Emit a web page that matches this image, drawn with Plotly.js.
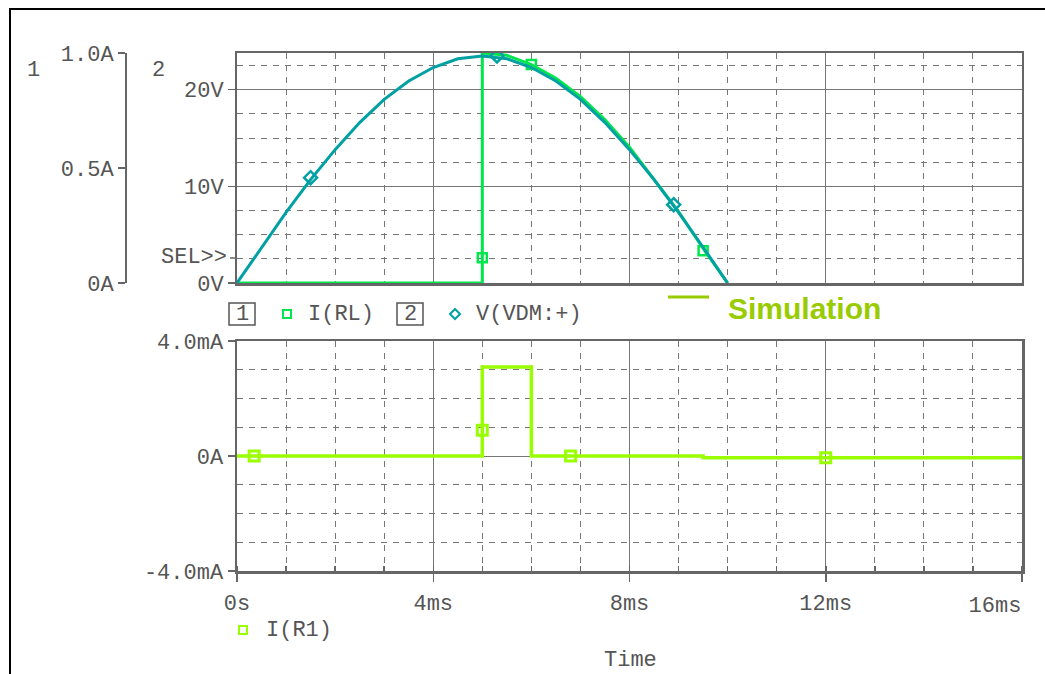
<!DOCTYPE html>
<html>
<head>
<meta charset="utf-8">
<script src="https://cdn.plot.ly/plotly-3.0.1.min.js"></script>
<style>html,body{margin:0;padding:0;background:#fff;}#chart{width:1045px;height:674px;}</style>
</head>
<body>
<div id="chart"></div>
<script>
// ---- data (time in ms) ----
const tV = [0, 0.5, 1.0, 1.5, 2.0, 2.5, 3.0, 3.5, 4.0, 4.5, 5.0, 5.5, 6.0, 6.5, 7.0, 7.5, 8.0, 8.5, 9.0, 9.5, 10.0];
const vVDM = [0, 3.7, 7.3, 10.7, 13.8, 16.6, 19.0, 20.9, 22.3, 23.2, 23.5, 23.2, 22.3, 20.9, 19.0, 16.6, 13.8, 10.7, 7.3, 3.7, 0];
const vMarkT = [1.5, 5.3, 8.9];
const vMarkV = [10.9, 23.5, 8.1];

const tIRL = [0, 5.0, 5.0, 5.5, 6.0, 6.5, 7.0, 7.5, 8.0, 8.5, 9.0, 9.5, 10.0];
const iRL = [0, 0, 1.0, 0.99, 0.95, 0.89, 0.81, 0.71, 0.59, 0.45, 0.31, 0.15, 0];
const iRLMarkT = [5.0, 6.0, 9.5];
const iRLMarkV = [0.11, 0.95, 0.14];

const tIR1 = [0, 5.0, 5.0, 6.0, 6.0, 9.5, 9.5, 16.0];
const iR1 = [0, 0, 3.1, 3.1, 0, 0, -0.06, -0.06];
const iR1MarkT = [0.35, 5.0, 6.8, 12.0];
const iR1MarkV = [0, 0.9, 0, -0.06];

const xTickVals = [0, 4, 8, 12, 16];
const xTickText = ['0s', '4ms', '8ms', '12ms', ''];
const xLastTickVal = [16];
const xLastTickText = ['16ms'];
const vTickVals = [0, 10, 20];
const vTickText = ['0V', '10V', '20V'];
const aTickVals = [0, 0.5, 1.0];
const aTickText = ['0A', '0.5A', '1.0A'];
const mATickVals = [-4, 0, 4];
const mATickText = ['-4.0mA', '0A', '4.0mA'];

// ---- colours ----
const cIRL = '#00e64d', cV = '#00a0a3', cIR1 = '#99ff00', cSim = '#99cc00';
const W = 1045, H = 674;
const px = x => x / W, py = y => 1 - y / H;
const mono = 'Liberation Mono, Courier New, monospace';
const fontAx = {family: mono, size: 22, color: '#555'};

const traces = [
  {x: tIRL, y: iRL, xaxis: 'x', yaxis: 'y', mode: 'lines', line: {color: cIRL, width: 3}, name: 'I(RL)'},
  {x: iRLMarkT, y: iRLMarkV, xaxis: 'x', yaxis: 'y', mode: 'markers', marker: {symbol: 'square-open', size: 9, color: cIRL, line: {width: 2.5}}, name: 'I(RL) markers'},
  {x: tV, y: vVDM, xaxis: 'x', yaxis: 'y2', mode: 'lines', line: {color: cV, width: 3}, name: 'V(VDM:+)'},
  {x: vMarkT, y: vMarkV, xaxis: 'x', yaxis: 'y2', mode: 'markers', marker: {symbol: 'diamond-open', size: 10, color: cV, line: {width: 2.5}}, name: 'V markers'},
  {x: tIR1, y: iR1, xaxis: 'x2', yaxis: 'y3', mode: 'lines', line: {color: cIR1, width: 3.5}, name: 'I(R1)'},
  {x: iR1MarkT, y: iR1MarkV, xaxis: 'x2', yaxis: 'y3', mode: 'markers', marker: {symbol: 'square-open', size: 10, color: cIR1, line: {width: 3}}, name: 'I(R1) markers'},
  {x: [], y: [], xaxis: 'x3', yaxis: 'y3', mode: 'lines', hoverinfo: 'skip', name: 'last tick'}
];

const xDom = [px(237), px(1022)];
const upDom = [py(283), py(53)];
const loDom = [py(571), py(341)];
const gridC = '#777', lineC = '#666';
const minorGrid = (d) => ({dtick: d, showgrid: true, gridcolor: gridC, gridwidth: 1, griddash: '6px,6px'});

function ann(text, x, y, xanchor, extra) {
  return Object.assign({text: text, xref: 'paper', yref: 'paper', x: px(x), y: py(y), xanchor: xanchor || 'center',
                        yanchor: 'middle', showarrow: false, font: fontAx}, extra || {});
}

const layout = {
  width: W, height: H,
  margin: {l: 0, r: 0, t: 0, b: 0},
  paper_bgcolor: '#fff', plot_bgcolor: '#fff',
  showlegend: false,
  font: fontAx,
  xaxis: {domain: xDom, anchor: 'y2', range: [0, 16], tickvals: xTickVals, showticklabels: false, ticks: '',
          showgrid: true, gridcolor: gridC, gridwidth: 1, minor: minorGrid(1), zeroline: false,
          showline: true, linecolor: lineC, linewidth: 2.5, mirror: true},
  yaxis: {anchor: 'free', position: px(126), side: 'left', range: [0, 1.0], tickvals: aTickVals, ticktext: aTickText,
          ticks: 'outside', ticklen: 7, tickcolor: lineC, tickwidth: 1.5, showgrid: false, zeroline: false,
          showline: true, linecolor: lineC, linewidth: 2, domain: upDom, tickfont: fontAx},
  yaxis2: {overlaying: 'y', anchor: 'x', side: 'left', range: [0, 23.8], tickvals: vTickVals, ticktext: vTickText,
           ticks: 'outside', ticklen: 7, tickcolor: lineC, tickwidth: 1.5,
           showgrid: true, gridcolor: gridC, gridwidth: 1, minor: minorGrid(2.5), zeroline: false,
           showline: true, linecolor: lineC, linewidth: 2, mirror: true, tickfont: fontAx},
  xaxis2: {domain: xDom, anchor: 'y3', range: [0, 16], tickvals: xTickVals, ticktext: xTickText,
           ticks: 'outside', ticklen: 8, tickcolor: lineC, tickwidth: 1.5, ticklabelstandoff: 2,
           showgrid: true, gridcolor: gridC, gridwidth: 1,
           minor: Object.assign(minorGrid(1), {ticks: 'inside', ticklen: 5, tickcolor: lineC}),
           zeroline: false, showline: true, linecolor: lineC, linewidth: 2.5, mirror: true, tickfont: fontAx},
  xaxis3: {overlaying: 'x2', anchor: 'y3', range: [0, 16], tickvals: xLastTickVal, ticktext: xLastTickText,
           ticks: '', ticklabelstandoff: 18, ticklabelshift: -27, showgrid: false, zeroline: false,
           showline: false, tickfont: fontAx},
  yaxis3: {domain: loDom, anchor: 'x2', range: [-4, 4], tickvals: mATickVals, ticktext: mATickText,
           ticks: 'outside', ticklen: 7, tickcolor: lineC, tickwidth: 1.5,
           showgrid: true, gridcolor: gridC, gridwidth: 1, minor: minorGrid(1), zeroline: false,
           showline: true, linecolor: lineC, linewidth: 2.5, mirror: true, tickfont: fontAx},
  shapes: [
    {type: 'line', xref: 'paper', yref: 'paper', x0: px(9), x1: px(1045), y0: py(9), y1: py(9), line: {color: '#000', width: 2}},
    {type: 'line', xref: 'paper', yref: 'paper', x0: px(10), x1: px(10), y0: py(9), y1: py(674), line: {color: '#000', width: 2}},
    {type: 'line', xref: 'paper', yref: 'paper', x0: px(230), x1: px(237), y0: py(258), y1: py(258), line: {color: lineC, width: 1.5}},
    {type: 'rect', xref: 'paper', yref: 'paper', x0: px(229), x1: px(255), y0: py(325), y1: py(303), line: {color: '#555', width: 1.5}},
    {type: 'rect', xref: 'paper', yref: 'paper', x0: px(397), x1: px(423), y0: py(325), y1: py(303), line: {color: '#555', width: 1.5}},
    {type: 'rect', xref: 'paper', yref: 'paper', x0: px(283), x1: px(291), y0: py(318), y1: py(310), line: {color: cIRL, width: 2}},
    {type: 'path', xref: 'paper', yref: 'paper',
     path: `M ${px(455)} ${py(309)} L ${px(460)} ${py(314)} L ${px(455)} ${py(319)} L ${px(450)} ${py(314)} Z`, line: {color: cV, width: 2}},
    {type: 'rect', xref: 'paper', yref: 'paper', x0: px(239), x1: px(247), y0: py(634), y1: py(626), line: {color: cIR1, width: 2}},
    {type: 'line', xref: 'paper', yref: 'paper', x0: px(668), x1: px(709), y0: py(297), y1: py(297), line: {color: cSim, width: 3}}
  ],
  annotations: [
    ann('1', 33, 70),
    ann('2', 158, 70),
    ann('SEL>>', 229, 257, 'right'),
    ann('1', 242, 314),
    ann('I(RL)', 306, 314, 'left'),
    ann('2', 410, 314),
    ann('V(VDM:+)', 474, 314, 'left'),
    ann('I(R1)', 264, 630, 'left'),
    ann('Time', 630, 660),
    ann('<b>Simulation</b>', 726, 308, 'left', {font: {family: 'Liberation Sans, Arial, sans-serif', size: 30, color: cSim}})
  ]
};

Plotly.newPlot('chart', traces, layout, {staticPlot: true, displayModeBar: false});
</script>
</body>
</html>
